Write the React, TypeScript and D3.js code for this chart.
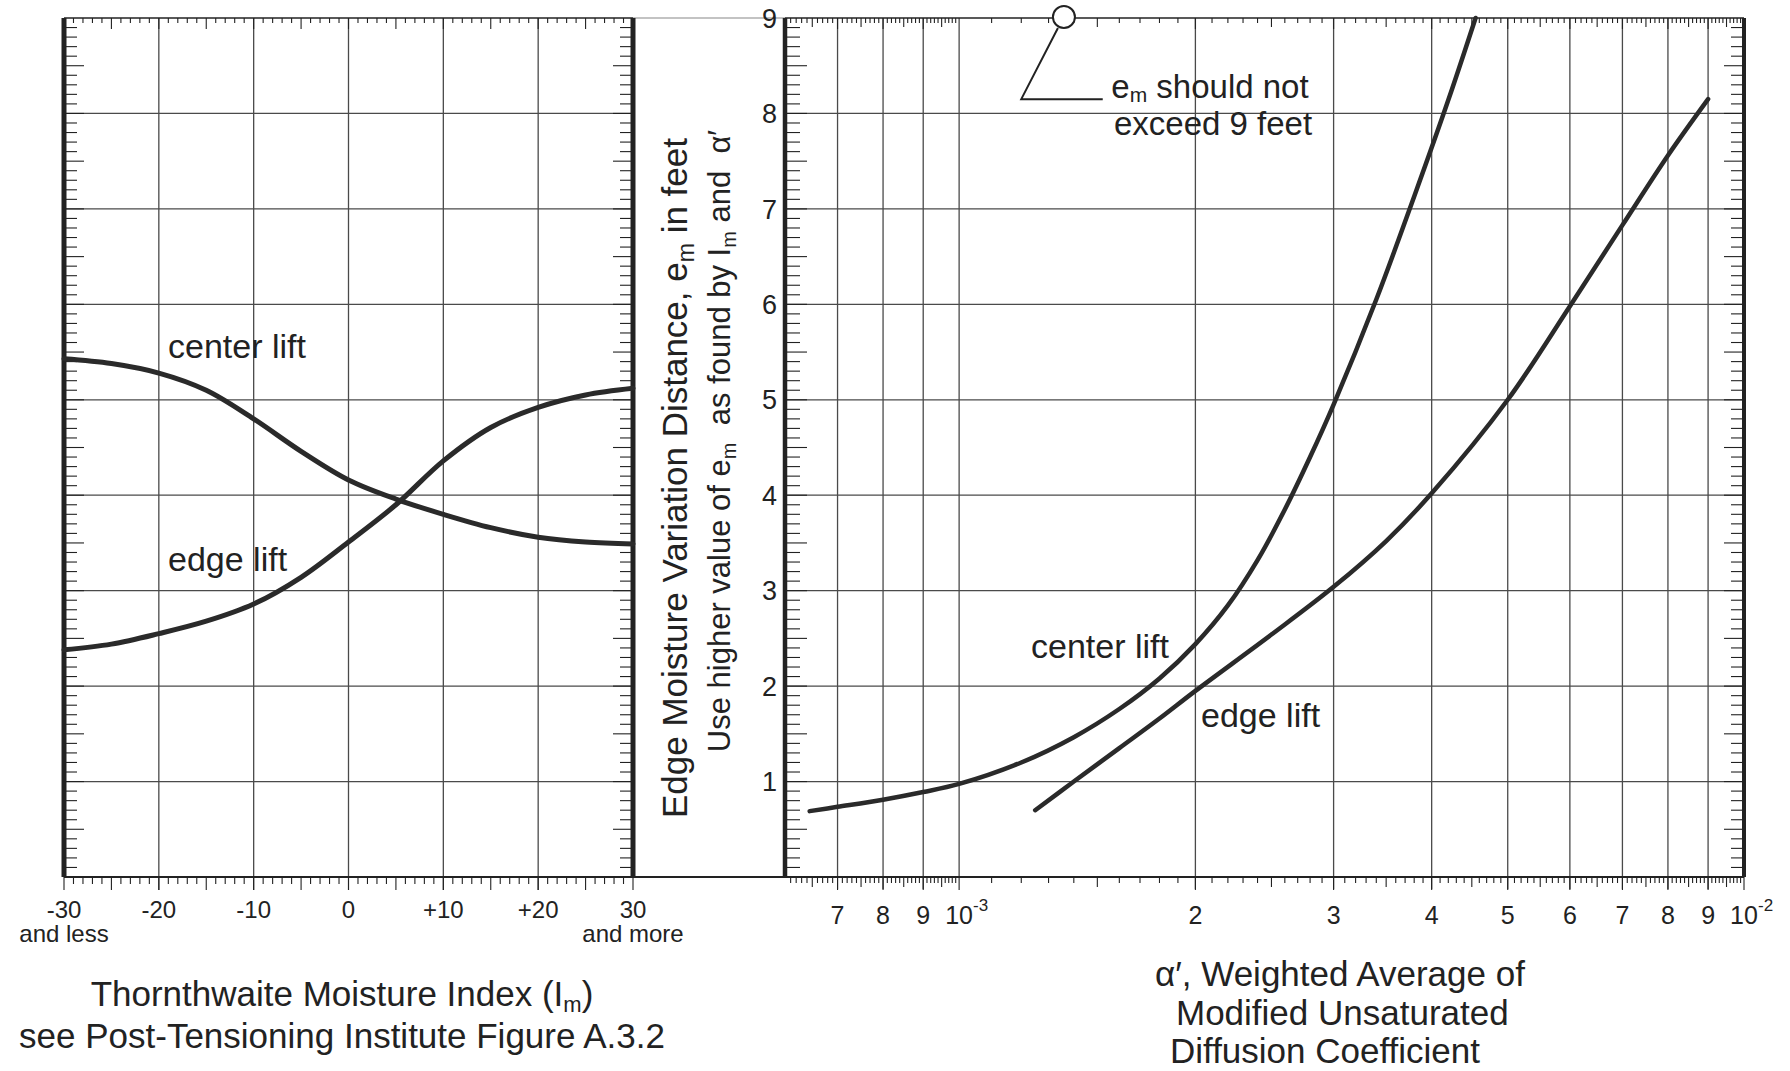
import React from 'react';
import * as d3 from 'd3';

// Left panel: Thornthwaite Moisture Index vs e_m
const imValues = [-30, -25, -20, -15, -10, -5, 0, 5, 10, 15, 20, 25, 30];
const centerLiftIm = [5.43, 5.38, 5.28, 5.1, 4.8, 4.46, 4.16, 3.96, 3.8, 3.66, 3.56, 3.51, 3.49];
const edgeLiftIm = [2.38, 2.44, 2.55, 2.68, 2.86, 3.14, 3.51, 3.9, 4.36, 4.71, 4.92, 5.05, 5.12];

// Right panel: alpha' (log) vs e_m
const alphaCenter = [6.45e-4, 7e-4, 8e-4, 9e-4, 1e-3, 1.2e-3, 1.4e-3, 1.6e-3, 1.8e-3, 2e-3, 2.2e-3, 2.4e-3, 2.6e-3, 2.8e-3, 3e-3, 3.4e-3, 3.8e-3, 4.2e-3, 4.55e-3];
const centerLiftAlpha = [0.69, 0.735, 0.81, 0.89, 0.975, 1.2, 1.465, 1.76, 2.08, 2.44, 2.845, 3.32, 3.85, 4.4, 4.95, 6.05, 7.13, 8.14, 9.0];
const alphaEdge = [1.25e-3, 1.4e-3, 1.6e-3, 1.8e-3, 2e-3, 2.5e-3, 3e-3, 3.5e-3, 4e-3, 5e-3, 6e-3, 7e-3, 8e-3, 9e-3];
const edgeLiftAlpha = [0.7, 1.0, 1.35, 1.66, 1.95, 2.54, 3.04, 3.52, 4.02, 5.0, 5.98, 6.83, 7.56, 8.15];

// tick labels
const imTicks = [-30, -20, -10, 0, 10, 20, 30];
const imTickLabels = ['-30', '-20', '-10', '0', '+10', '+20', '30'];
const alphaTicks = [7e-4, 8e-4, 9e-4, 1e-3, 2e-3, 3e-3, 4e-3, 5e-3, 6e-3, 7e-3, 8e-3, 9e-3, 1e-2];
const alphaTickLabels = ['7', '8', '9', '10', '2', '3', '4', '5', '6', '7', '8', '9', '10'];
const alphaTickExp = ['', '', '', '-3', '', '', '', '', '', '', '', '', '-2'];
const emTicks = [1, 2, 3, 4, 5, 6, 7, 8, 9];
const alphaGrid = [7e-4, 8e-4, 9e-4, 1e-3, 2e-3, 3e-3, 4e-3, 5e-3, 6e-3, 7e-3, 8e-3, 9e-3];
const imGrid = [-20, -10, 0, 10, 20];
const emGrid = [1, 2, 3, 4, 5, 6, 7, 8];

// annotation "e_m should not exceed 9 feet"
const noteCircle = { alpha: 1.36e-3, em: 9 };
const noteLeader = [[1.2e-3, 8.15], [1.524e-3, 8.15]];

const FONT = '"Liberation Sans", Arial, Helvetica, sans-serif';
const INK = '#222';
const GRID = '#4a4a4a';

const App: React.FC = () => {
    const width = 1790;
    const height = 1071;
    const top = 18;
    const bottom = 877;

    const y = d3.scaleLinear().domain([0, 9]).range([bottom, top]);
    const xL = d3.scaleLinear().domain([-30, 30]).range([64, 633]);
    const xR = d3.scaleLog().domain([6e-4, 1e-2]).range([785, 1744]);

    const smooth = d3.curveCatmullRom.alpha(0.5);
    const lineL = d3.line<number>()
        .x((_, i) => xL(imValues[i]))
        .y(d => y(d))
        .curve(smooth);
    const lineCenterR = d3.line<number>()
        .x((_, i) => xR(alphaCenter[i]))
        .y(d => y(d))
        .curve(smooth);
    const lineEdgeR = d3.line<number>()
        .x((_, i) => xR(alphaEdge[i]))
        .y(d => y(d))
        .curve(smooth);

    // minor tick sets
    const emMinor = d3.range(1, 90);          // tenths of a foot
    const imMinor = d3.range(-29, 30);        // every unit
    const logMinor: { v: number; k: number }[] = [];
    for (let k = 61; k < 100; k++) logMinor.push({ v: k * 1e-5, k });
    for (let k = 11; k < 100; k++) logMinor.push({ v: k * 1e-4, k });

    const [xL0, xL1] = xL.range();
    const [xR0, xR1] = xR.range();

    return (
        <svg width={width} height={height}
            style={{ position: 'absolute', left: 0, top: 0, background: '#fff' }}
            fontFamily={FONT} fill={INK}>
            <rect width={width} height={height} fill="#fff" />

            {/* grid lines */}
            <g stroke={GRID} strokeWidth={1.3}>
                {imGrid.map(v => <line key={'gl' + v} x1={xL(v)} x2={xL(v)} y1={top} y2={bottom} />)}
                {alphaGrid.map(v => <line key={'gr' + v} x1={xR(v)} x2={xR(v)} y1={top} y2={bottom} />)}
                {emGrid.map(v => (
                    <g key={'gh' + v}>
                        <line x1={xL0} x2={xL1} y1={y(v)} y2={y(v)} />
                        <line x1={xR0} x2={xR1} y1={y(v)} y2={y(v)} />
                    </g>
                ))}
            </g>

            {/* side ticks, every 0.1 ft, inside each border */}
            <g stroke={INK} strokeWidth={1.1}>
                {emMinor.map(k => {
                    const len = k % 5 === 0 ? 20 : 13;
                    const yy = y(k / 10);
                    return (
                        <g key={'em' + k}>
                            <line x1={xL0} x2={xL0 + len} y1={yy} y2={yy} />
                            <line x1={xL1} x2={xL1 - len} y1={yy} y2={yy} />
                            <line x1={xR0} x2={xR0 + len + 2} y1={yy} y2={yy} />
                            <line x1={xR1} x2={xR1 - len} y1={yy} y2={yy} />
                        </g>
                    );
                })}
                {imMinor.map(v => {
                    const len = v % 5 === 0 ? 13 : 7;
                    return (
                        <g key={'im' + v}>
                            <line x1={xL(v)} x2={xL(v)} y1={top} y2={top + len - 2} />
                            <line x1={xL(v)} x2={xL(v)} y1={bottom} y2={bottom + len} />
                        </g>
                    );
                })}
                {logMinor.map(({ v, k }) => {
                    const len = k % 10 === 0 ? 12 : k % 5 === 0 ? 10 : 6;
                    return (
                        <g key={'lg' + k + '-' + v}>
                            <line x1={xR(v)} x2={xR(v)} y1={top} y2={top + len - 1} />
                            <line x1={xR(v)} x2={xR(v)} y1={bottom} y2={bottom + len} />
                        </g>
                    );
                })}
                {imTicks.map(v => <line key={'imt' + v} x1={xL(v)} x2={xL(v)} y1={bottom} y2={bottom + 13} />)}
                {alphaTicks.map(v => <line key={'alt' + v} x1={xR(v)} x2={xR(v)} y1={bottom} y2={bottom + 13} />)}
            </g>

            {/* frames */}
            <g stroke={INK}>
                <line x1={xL0} x2={xL1} y1={top} y2={top} strokeWidth={1.6} />
                <line x1={xL1} x2={xR0} y1={top} y2={top} strokeWidth={1.2} stroke="#888" />
                <line x1={xR0} x2={xR1} y1={top} y2={top} strokeWidth={1.6} />
                <line x1={xL0} x2={xR1} y1={bottom} y2={bottom} strokeWidth={1.8} />
                <line x1={xL0} x2={xL0} y1={top} y2={bottom} strokeWidth={5} />
                <line x1={xL1} x2={xL1} y1={top} y2={bottom} strokeWidth={5} />
                <line x1={xR0} x2={xR0} y1={top} y2={bottom} strokeWidth={4.5} />
                <line x1={xR1} x2={xR1} y1={top} y2={bottom} strokeWidth={4} />
            </g>

            {/* curves */}
            <g fill="none" stroke="#2a2a2a" strokeLinecap="round">
                <path d={lineL(centerLiftIm) || ''} strokeWidth={5} />
                <path d={lineL(edgeLiftIm) || ''} strokeWidth={5} />
                <path d={lineCenterR(centerLiftAlpha) || ''} strokeWidth={4.5} />
                <path d={lineEdgeR(edgeLiftAlpha) || ''} strokeWidth={4.5} />
            </g>

            {/* curve labels */}
            <g fontSize={34}>
                <text x={168} y={358}>center lift</text>
                <text x={168} y={571}>edge lift</text>
                <text x={1031} y={658}>center lift</text>
                <text x={1201} y={727}>edge lift</text>
            </g>

            {/* annotation */}
            <g stroke={INK} strokeWidth={2} fill="none">
                <polyline points={[
                    [xR(noteCircle.alpha) - 6, y(noteCircle.em) + 10],
                    ...noteLeader.map(([a, e]) => [xR(a), y(e)]),
                ].map(p => p.join(',')).join(' ')} />
                <circle cx={xR(noteCircle.alpha)} cy={y(noteCircle.em) - 1} r={11} fill="#fff" />
            </g>
            <g fontSize={33} textAnchor="middle">
                <text x={1210} y={98}>e<tspan fontSize={21} dy={4}>m</tspan><tspan dy={-4}> should not</tspan></text>
                <text x={1213} y={135}>exceed 9 feet</text>
            </g>

            {/* left x tick labels */}
            <g fontSize={24} textAnchor="middle">
                {imTicks.map((v, i) => <text key={'iml' + v} x={xL(v)} y={918}>{imTickLabels[i]}</text>)}
                <text x={xL(-30)} y={942}>and less</text>
                <text x={xL(30)} y={942}>and more</text>
            </g>

            {/* right x tick labels */}
            <g fontSize={25}>
                {alphaTicks.map((v, i) => (
                    <g key={'all' + i}>
                        <text x={xR(v)} y={924} textAnchor="middle">{alphaTickLabels[i]}</text>
                        {alphaTickExp[i] && <text x={xR(v) + 14} y={911} fontSize={17}>{alphaTickExp[i]}</text>}
                    </g>
                ))}
            </g>

            {/* right y tick labels */}
            <g fontSize={27} textAnchor="end">
                {emTicks.map(v => <text key={'eml' + v} x={777} y={y(v)} dy="0.36em">{v}</text>)}
            </g>

            {/* rotated y titles */}
            <text transform="translate(687,478) rotate(-90)" fontSize={35} textAnchor="middle">
                Edge Moisture Variation Distance, e<tspan fontSize={23} dy={7}>m</tspan><tspan dy={-7}> in feet</tspan>
            </text>
            <text transform="translate(730,441) rotate(-90)" fontSize={31} textAnchor="middle" xmlSpace="preserve">
                Use higher value of e<tspan fontSize={20} dy={6}>m</tspan><tspan dy={-6}>  as found by I</tspan><tspan fontSize={20} dy={6}>m</tspan><tspan dy={-6}> and  α′</tspan>
            </text>

            {/* x titles */}
            <g fontSize={35}>
                <text x={342} y={1006} textAnchor="middle">
                    Thornthwaite Moisture Index (I<tspan fontSize={22} dy={6}>m</tspan><tspan dy={-6}>)</tspan>
                </text>
                <text x={342} y={1048} textAnchor="middle">see Post-Tensioning Institute Figure A.3.2</text>
                <text x={1155} y={986}>α′, Weighted Average of</text>
                <text x={1176} y={1025}>Modified Unsaturated</text>
                <text x={1170} y={1063}>Diffusion Coefficient</text>
            </g>
        </svg>
    );
};

export default App;
